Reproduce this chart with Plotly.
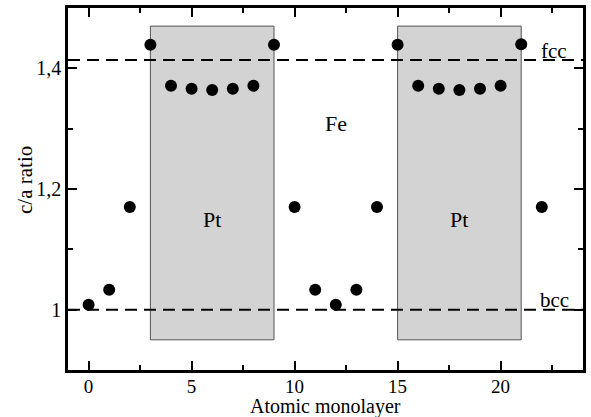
import plotly.graph_objects as go

# Data
layers = list(range(23))
ca_ratio = [1.008, 1.033, 1.170, 1.439, 1.371, 1.366, 1.364, 1.366, 1.371, 1.439,
            1.170, 1.033, 1.008, 1.033, 1.170, 1.439, 1.371, 1.366, 1.364, 1.366,
            1.371, 1.440, 1.170]
pt_regions = [(3, 9), (15, 21)]
pt_box_y = (0.95, 1.47)
fcc_value = 1.414
bcc_value = 1.0
x_ticks = [0, 5, 10, 15, 20]
y_ticks = [1.0, 1.2, 1.4]

FONT = "Liberation Serif"

fig = go.Figure()

shapes = []
for x0, x1 in pt_regions:
    shapes.append(dict(type="rect", xref="x", yref="y", x0=x0, x1=x1,
                       y0=pt_box_y[0], y1=pt_box_y[1],
                       fillcolor="rgb(211,211,211)",
                       line=dict(color="#555555", width=1), layer="below"))
for yv in (fcc_value, bcc_value):
    shapes.append(dict(type="line", xref="paper", yref="y", x0=0, x1=1,
                       y0=yv, y1=yv,
                       line=dict(color="black", width=2, dash="12px,7px"),
                       layer="above"))

fig.add_trace(go.Scatter(x=layers, y=ca_ratio, mode="markers",
                         marker=dict(color="black", size=12),
                         showlegend=False, cliponaxis=False))

annotations = []
for x0, x1 in pt_regions:
    annotations.append(dict(x=(x0 + x1) / 2, y=1.15, xref="x", yref="y",
                            text="Pt", showarrow=False,
                            font=dict(family=FONT, size=22, color="black")))
annotations.append(dict(x=12, y=1.309, xref="x", yref="y", text="Fe",
                        showarrow=False,
                        font=dict(family=FONT, size=22, color="black")))
annotations.append(dict(x=22.6, y=1.428, xref="x", yref="y", text="fcc",
                        showarrow=False,
                        font=dict(family=FONT, size=21, color="black")))
annotations.append(dict(x=22.6, y=1.0165, xref="x", yref="y", text="bcc",
                        showarrow=False,
                        font=dict(family=FONT, size=21, color="black")))
# axis titles
annotations.append(dict(x=0.5, y=0, xref="paper", yref="paper",
                        text="Atomic monolayer", showarrow=False,
                        xanchor="center", yanchor="middle", yshift=-36,
                        borderpad=0,
                        font=dict(family=FONT, size=20, color="black")))
annotations.append(dict(x=0, y=0.525, xref="paper", yref="paper",
                        text="c/a ratio", showarrow=False, textangle=-90,
                        xanchor="center", yanchor="middle", xshift=-43,
                        borderpad=0,
                        font=dict(family=FONT, size=21, color="black")))

fig.update_layout(
    width=591, height=417,
    margin=dict(l=68, r=5, t=6, b=47),
    paper_bgcolor="white", plot_bgcolor="white",
    separators=",.",
    font=dict(family=FONT, size=20, color="black"),
    shapes=shapes, annotations=annotations,
    xaxis=dict(range=[-1, 24], tickvals=x_ticks, ticks="inside", ticklen=9,
               tickwidth=1.5, tickcolor="black",
               minor=dict(ticks="inside", ticklen=5, dtick=2.5, tick0=0,
                          tickcolor="black", tickwidth=1.5, showgrid=False),
               showline=True, linecolor="black", linewidth=2.5, mirror="allticks",
               showgrid=False, zeroline=False, tickfont=dict(size=19),
               ticklabelstandoff=-3),
    yaxis=dict(range=[0.9, 1.5], tickvals=y_ticks, ticks="inside", ticklen=9,
               tickwidth=1.5, tickcolor="black",
               minor=dict(ticks="inside", ticklen=5, dtick=0.1, tick0=0.9,
                          tickcolor="black", tickwidth=1.5, showgrid=False),
               showline=True, linecolor="black", linewidth=2.5, mirror="allticks",
               showgrid=False, zeroline=False, tickfont=dict(size=20)),
)

fig.write_html("out.html")
